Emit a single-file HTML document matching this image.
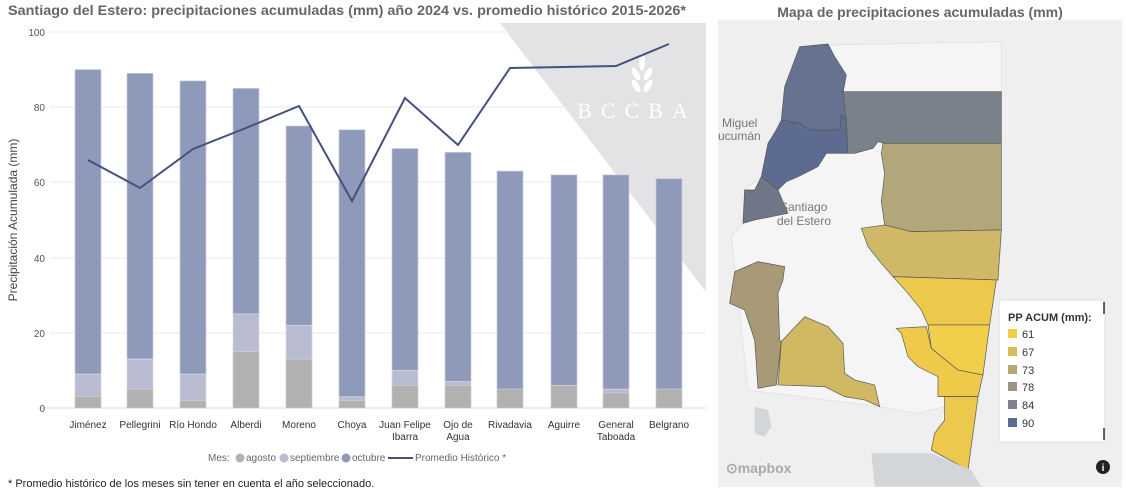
<!DOCTYPE html>
<html><head><meta charset="utf-8"><style>
body{margin:0;width:1126px;height:492px;background:#fff;font-family:"Liberation Sans",sans-serif;overflow:hidden;position:relative}
</style></head><body>
<svg width="1126" height="492" style="position:absolute;left:0;top:0" font-family="Liberation Sans, sans-serif">
<polygon points="500,23 706,23 706,292" fill="#e3e3e6"/>
<text x="637" y="118" font-family="Liberation Serif, serif" font-size="22" fill="#fff" text-anchor="middle" letter-spacing="9">BCCBA</text>
<g fill="#fff"><ellipse cx="642" cy="62" rx="3" ry="9"/><ellipse cx="636" cy="74" rx="3" ry="7" transform="rotate(-30 636 74)"/><ellipse cx="648" cy="74" rx="3" ry="7" transform="rotate(30 648 74)"/><ellipse cx="636" cy="86" rx="3" ry="7" transform="rotate(-30 636 86)"/><ellipse cx="648" cy="86" rx="3" ry="7" transform="rotate(30 648 86)"/></g>
<g stroke="#e8e8e8" stroke-width="1">
<line x1="50" y1="32" x2="706" y2="32"/><line x1="50" y1="107" x2="706" y2="107"/><line x1="50" y1="182" x2="706" y2="182"/><line x1="50" y1="258" x2="706" y2="258"/><line x1="50" y1="333" x2="706" y2="333"/><line x1="38" y1="408" x2="706" y2="408" stroke="#ddd"/>
</g>
<g font-size="10" fill="#555" text-anchor="end">
<text x="45" y="36">100</text><text x="45" y="111">80</text><text x="45" y="186">60</text><text x="45" y="262">40</text><text x="45" y="337">20</text><text x="45" y="412">0</text>
</g>
<text transform="translate(17,220) rotate(-90)" font-size="12" fill="#444" text-anchor="middle">Precipitación Acumulada (mm)</text>
<text x="8" y="15" font-size="14" font-weight="bold" fill="#666" textLength="678" lengthAdjust="spacingAndGlyphs">Santiago del Estero: precipitaciones acumuladas (mm) año 2024 vs. promedio histórico 2015-2026*</text>
<text x="920" y="17" font-size="14" font-weight="bold" fill="#666" text-anchor="middle">Mapa de precipitaciones acumuladas (mm)</text>
<g id="bars"></g>
<polyline fill="none" stroke="#45507f" stroke-width="2" points="88,160 140,188 193,149 246,128 299,106 352,201 405,98 458,145 510,68 564,67 616,66 669,44"/>
<g font-size="10" fill="#333" text-anchor="middle">
<text x="88" y="428">Jiménez</text><text x="140" y="428">Pellegrini</text><text x="193" y="428">Río Hondo</text><text x="246" y="428">Alberdi</text><text x="299" y="428">Moreno</text><text x="352" y="428">Choya</text><text x="405" y="428">Juan Felipe</text><text x="405" y="440">Ibarra</text><text x="458" y="428">Ojo de</text><text x="458" y="440">Agua</text><text x="510" y="428">Rivadavia</text><text x="564" y="428">Aguirre</text><text x="616" y="428">General</text><text x="616" y="440">Taboada</text><text x="669" y="428">Belgrano</text>
</g>
<g font-size="10" fill="#666">
<text x="208" y="461">Mes:</text>
<circle cx="240" cy="458" r="4.5" fill="#b1b1b1"/><text x="246" y="461">agosto</text>
<circle cx="284" cy="458" r="4.5" fill="#b9bcd1"/><text x="290" y="461">septiembre</text>
<circle cx="346" cy="458" r="4.5" fill="#8f99b9"/><text x="352" y="461">octubre</text>
<line x1="388" y1="458" x2="413" y2="458" stroke="#45507f" stroke-width="2"/><text x="415" y="461">Promedio Histórico *</text>
</g>
<text x="8" y="487" font-size="11" fill="#222">* Promedio histórico de los meses sin tener en cuenta el año seleccionado.</text>
<rect x="718" y="20" width="404" height="467" fill="#efefef"/>
<g transform="translate(718,20) scale(0.3333)" stroke="#555" stroke-width="2">
<polygon fill="#f5f5f5" stroke="#ddd" points="250,80 330,75 850,65 850,680 750,1350 640,1290 680,1160 600,1180 480,1160 90,1110 40,650 75,610 80,510 130,470"/>
<polygon fill="#66728f" points="245,80 330,72 350,110 385,165 375,220 385,290 365,330 275,330 245,310 190,300 200,200"/>
<polygon fill="#5c6b8f" points="190,300 245,310 275,330 365,330 370,285 390,300 390,400 325,400 300,440 240,470 205,485 180,510 130,470 150,370 175,330"/>
<polygon fill="#6e7688" points="130,470 180,510 210,580 110,600 75,610 80,510 110,510"/>
<polygon fill="#7b818b" points="370,215 850,215 850,370 500,370 480,365 465,385 410,400 390,400 385,300 375,220"/>
<polygon fill="#b2a77b" points="495,370 850,370 850,630 580,635 500,615 490,545 500,460 490,400"/>
<polygon fill="#cfb968" points="430,625 500,615 580,635 850,630 840,780 525,770 490,730 450,680"/>
<polygon fill="#edc94b" points="525,770 835,780 815,915 630,915 610,870 570,820"/>
<polygon fill="#efc94a" points="535,925 625,920 640,985 720,1050 795,1065 780,1130 660,1130 660,1070 600,1040 570,1010 550,940"/>
<polygon fill="#f2cf4a" points="630,915 815,915 795,1065 720,1050 640,985"/>
<polygon fill="#ecc84d" points="680,1130 780,1130 750,1350 640,1290 650,1240 680,1200"/>
<polygon fill="#a89a76" points="50,755 120,725 200,740 195,780 180,820 185,960 190,965 175,1095 120,1105 110,960 80,870 35,850"/>
<polygon fill="#d1b863" points="190,965 260,890 330,920 375,970 380,1060 410,1080 470,1095 485,1160 440,1140 380,1130 320,1100 180,1095"/>
<polygon fill="#d2d6d8" stroke="none" points="110,1160 150,1170 160,1220 140,1250 110,1240"/>
<polygon fill="#d2d6d8" stroke="none" points="460,1300 640,1300 760,1350 790,1400 470,1400"/>
</g>
<g font-size="12" fill="#777"><text x="722" y="127">Miguel</text><text x="718" y="140">ucumán</text><text x="780" y="211">Santiago</text><text x="777" y="225">del Estero</text></g>
<text x="726" y="473" font-size="14" font-weight="bold" fill="#aaa">⊙mapbox</text>
<circle cx="1103" cy="467" r="7" fill="#222"/><text x="1103" y="471" font-size="10" fill="#fff" text-anchor="middle" font-weight="bold">i</text>
<rect x="999" y="300" width="106" height="142" rx="3" fill="#fff" stroke="#ddd"/>
<line x1="1104" y1="302" x2="1104" y2="314" stroke="#333" stroke-width="1.5"/><line x1="1104" y1="428" x2="1104" y2="440" stroke="#333" stroke-width="1.5"/>
<text x="1008" y="321" font-size="11" font-weight="bold" fill="#333">PP ACUM (mm):</text>
<g font-size="11" fill="#333">
<rect x="1008" y="329" width="9" height="9" fill="#f3cd45"/><text x="1022" y="338">61</text>
<rect x="1008" y="347" width="9" height="9" fill="#d6bb5d"/><text x="1022" y="356">67</text>
<rect x="1008" y="365" width="9" height="9" fill="#b6a674"/><text x="1022" y="374">73</text>
<rect x="1008" y="382" width="9" height="9" fill="#9a9480"/><text x="1022" y="391">78</text>
<rect x="1008" y="400" width="9" height="9" fill="#7c818b"/><text x="1022" y="409">84</text>
<rect x="1008" y="418" width="9" height="9" fill="#5d6b91"/><text x="1022" y="427">90</text>
</g>
</svg>
<script>
var d=[[88,3,9,90],[140,5,13,89],[193,2,9,87],[246,15,25,85],[299,13,22,75],[352,2,3,74],[405,6,10,69],[458,6,7,68],[510,5,5,63],[564,6,6,62],[616,4,5,62],[669,5,5,61]];
var s='',y=function(v){return 408-v*3.76;};
d.forEach(function(r){var x=r[0]-13;
s+='<rect x="'+x+'" y="'+y(r[3])+'" width="26" height="'+(y(r[2])-y(r[3]))+'" fill="#8f99b9" stroke="#c8cce0" stroke-width="0.7"/>';
s+='<rect x="'+x+'" y="'+y(r[2])+'" width="26" height="'+(y(r[1])-y(r[2]))+'" fill="#b9bcd1" stroke="#d8d9e3" stroke-width="0.7"/>';
s+='<rect x="'+x+'" y="'+y(r[1])+'" width="26" height="'+(408-y(r[1]))+'" fill="#b1b1b1" stroke="#ccc" stroke-width="0.7"/>';});
document.getElementById('bars').innerHTML=s;
</script>
</body></html>
